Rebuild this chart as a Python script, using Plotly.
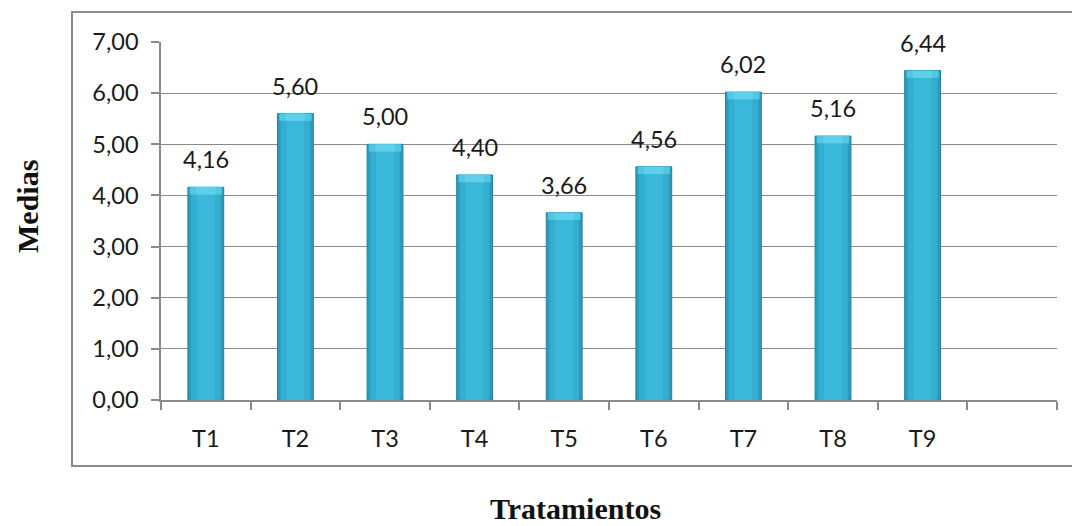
import plotly.graph_objects as go

# Treatment means
categories = ["T1", "T2", "T3", "T4", "T5", "T6", "T7", "T8", "T9"]
medias = [4.16, 5.60, 5.00, 4.40, 3.66, 4.56, 6.02, 5.16, 6.44]
y_ticks = [0, 1, 2, 3, 4, 5, 6, 7]

W, H = 1072, 526
L, R, T, B = 161, 15, 42, 126
plot_w = W - L - R
plot_h = H - T - B

xpos = list(range(len(categories)))
n_slots = len(categories) + 1  # one empty slot on the right

label_font = dict(family="Lato, 'Open Sans', sans-serif", size=23.5, color="#1a1a1a")
title_font = dict(family="'Liberation Serif', 'Times New Roman', serif", size=30, color="#111111")

fig = go.Figure()

# layered bars for a bevelled cylinder look
fig.add_bar(x=xpos, y=medias, width=0.40, marker=dict(color="#2C9BBB", line=dict(color="#26809B", width=1)),
            hoverinfo="skip")
fig.add_bar(x=xpos, y=medias, width=0.33, marker=dict(color="#34AED0", line=dict(width=0)), hoverinfo="skip")
fig.add_bar(x=xpos, y=medias, width=0.20, marker=dict(color="#3AB8D9", line=dict(width=0)), hoverinfo="skip")
bevel = 0.14
fig.add_bar(x=xpos, y=[bevel] * len(medias), base=[m - bevel for m in medias], width=0.36,
            marker=dict(color="#52C6E4", line=dict(width=0)), hoverinfo="skip")
fig.add_bar(x=xpos, y=[bevel] * len(medias), base=[m - bevel for m in medias], width=0.22,
            marker=dict(color="#62CFEA", line=dict(width=0)), hoverinfo="skip")

# value labels above each bar
for x, v in zip(xpos, medias):
    fig.add_annotation(x=x, y=v, text=f"{v:.2f}".replace(".", ","), showarrow=False,
                       yanchor="bottom", yshift=12, font=label_font)

# outer frame around the chart
fig.add_shape(type="rect", xref="paper", yref="paper",
              x0=(72 - L) / plot_w, x1=(W + 2 - L) / plot_w,
              y0=-(466 - (H - B)) / plot_h, y1=1 + (T - 12) / plot_h,
              line=dict(color="#8A8A8A", width=2), fillcolor="rgba(0,0,0,0)", layer="below")

# axis titles
fig.add_annotation(xref="paper", yref="paper", x=(575 - L) / plot_w, y=-(508 - (H - B)) / plot_h,
                   text="<b>Tratamientos</b>", showarrow=False, font=title_font,
                   xanchor="center", yanchor="middle")
fig.add_annotation(xref="paper", yref="paper", x=(27 - L) / plot_w, y=1 - (207 - T) / plot_h,
                   text="<b>Medias</b>", showarrow=False, font=title_font, textangle=-90,
                   xanchor="center", yanchor="middle")

fig.update_layout(
    width=W, height=H,
    margin=dict(l=L, r=R, t=T, b=B),
    paper_bgcolor="white", plot_bgcolor="white",
    barmode="overlay", showlegend=False,
    separators=", ",
    font=label_font,
)
fig.update_xaxes(
    range=[-0.5, n_slots - 0.5], tickmode="array", tickvals=xpos, ticktext=categories,
    ticks="", showgrid=False, zeroline=False,
    showline=True, linecolor="#8A8A8A", linewidth=1.5,
    ticklabelstandoff=17, tickfont=label_font,
    minor=dict(ticks="outside", tick0=0.5, dtick=1, ticklen=8, tickcolor="#8A8A8A", tickwidth=1.5, showgrid=False),
)
fig.update_yaxes(
    range=[0, 7], tickmode="array", tickvals=y_ticks, tickformat=".2f",
    ticks="outside", ticklen=8, tickcolor="#8A8A8A", tickwidth=1.5,
    showgrid=True, gridcolor="#8A8A8A", gridwidth=1,
    zeroline=False, showline=True, linecolor="#8A8A8A", linewidth=1.5,
    tickfont=label_font, ticklabelstandoff=8,
)

fig.write_html("out.html")
